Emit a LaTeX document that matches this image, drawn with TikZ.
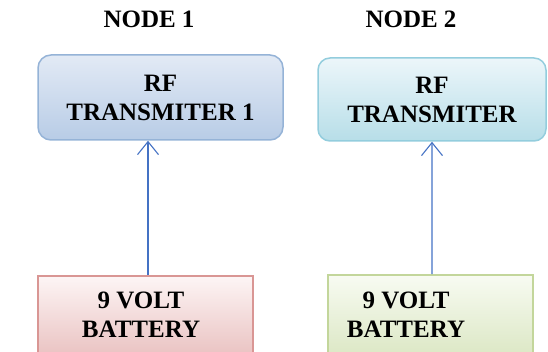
\documentclass[tikz,border=0pt]{standalone}
\usepackage{fontspec}
\setmainfont{Liberation Serif}
\usetikzlibrary{positioning, arrows.meta, shadings}
\definecolor{BlueEdge}{RGB}{149,179,215}
\definecolor{BlueTop}{RGB}{226,234,245}
\definecolor{BlueBottom}{RGB}{184,204,230}
\definecolor{CyanEdge}{RGB}{147,205,221}
\definecolor{CyanTop}{RGB}{236,246,250}
\definecolor{CyanBottom}{RGB}{183,222,232}
\definecolor{RedEdge}{RGB}{217,150,148}
\definecolor{RedTop}{RGB}{253,245,245}
\definecolor{RedBottom}{RGB}{230,185,184}
\definecolor{GreenEdge}{RGB}{195,214,155}
\definecolor{GreenTop}{RGB}{248,251,242}
\definecolor{GreenBottom}{RGB}{215,228,189}
\definecolor{ArrowBlue}{RGB}{68,114,196}
\tikzset{
  boxtext/.style={font=\fontsize{25}{29}\selectfont\bfseries, align=center, text=black},
  unitbox/.style={boxtext, line width=1.5pt, rectangle},
  bluebox/.style={unitbox, draw=BlueEdge, top color=BlueTop, bottom color=BlueBottom, rounded corners=13pt},
  cyanbox/.style={unitbox, draw=CyanEdge, top color=CyanTop, bottom color=CyanBottom, rounded corners=12pt},
  redbox/.style={unitbox, draw=RedEdge, top color=RedTop, bottom color=RedBottom},
  greenbox/.style={unitbox, draw=GreenEdge, top color=GreenTop, bottom color=GreenBottom},
  feed/.style={draw=ArrowBlue, line width=1.1pt, -{Straight Barb[length=13pt, width=21pt, line width=1.1pt]}}
}
\begin{document}
\begin{tikzpicture}[x=10pt, y=10pt]
  \useasboundingbox (0,0) rectangle (54.8,35.1);
  \clip (0,0) rectangle (54.8,35.1);
  % headings
  \node[boxtext] (head1) at (14.9,33.15) {NODE 1};
  \node[boxtext] (head2) at (41.1,33.15) {NODE 2};
  % transmitters
  \node[bluebox, minimum width=245pt, minimum height=85pt] (tx1) at (16.05,25.35) {RF\\TRANSMITER 1};
  \node[cyanbox, minimum width=228pt, minimum height=83pt] (tx2) at (43.2,25.15) {RF\\TRANSMITER};
  % batteries
  \node[redbox, minimum width=215pt, minimum height=95pt, anchor=north] (bat1) at (14.55,7.6) {};
  \node[greenbox, minimum width=205pt, minimum height=95pt, anchor=north] (bat2) at (43.05,7.7) {};
  \node[boxtext] (bat1txt) at (14.1,3.6) {9 VOLT\\BATTERY};
  \node[boxtext] (bat2txt) at (40.6,3.6) {9 VOLT\\BATTERY};
  % supply lines
  \draw[feed] ([xshift=2.5pt]bat1.north) -- ([xshift=-12.5pt]tx1.south);
  \draw[feed] ([xshift=1.5pt]bat2.north) -- (tx2.south);
\end{tikzpicture}
\end{document}
